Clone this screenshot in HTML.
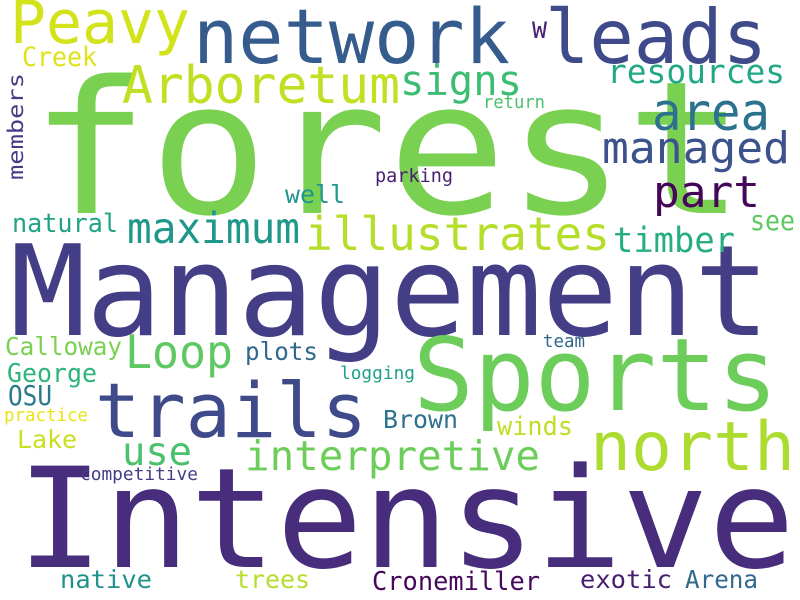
<!DOCTYPE html>
<html><head><meta charset="utf-8"><style>
html,body{margin:0;padding:0;background:#fff;}
svg{display:block;}
text{font-family:"DejaVu Sans Mono","Liberation Mono",monospace;}
</style></head><body>
<svg width="800" height="600" viewBox="0 0 800 600">
<rect width="800" height="600" fill="#fff"/>
<text x="30" y="213" font-size="185" fill="#7ad151" textLength="715" lengthAdjust="spacingAndGlyphs">forest</text>
<text x="10" y="335" font-size="126" fill="#433e85" textLength="760" lengthAdjust="spacingAndGlyphs">Management</text>
<text x="17" y="567" font-size="139" fill="#472d7b" textLength="778" lengthAdjust="spacingAndGlyphs">Intensive</text>
<text x="413" y="410" font-size="101" fill="#6ccd5a" textLength="365" lengthAdjust="spacingAndGlyphs">Sports</text>
<text x="95" y="437" font-size="76" fill="#3e4a89" textLength="272" lengthAdjust="spacingAndGlyphs">trails</text>
<text x="590" y="470" font-size="68" fill="#addc30" textLength="205" lengthAdjust="spacingAndGlyphs">north</text>
<text x="193" y="63" font-size="76" fill="#365c8d" textLength="317" lengthAdjust="spacingAndGlyphs">network</text>
<text x="545" y="63" font-size="75" fill="#3e4a89" textLength="222" lengthAdjust="spacingAndGlyphs">leads</text>
<text x="10" y="43" font-size="60" fill="#d2e21b" textLength="180" lengthAdjust="spacingAndGlyphs">Peavy</text>
<text x="22" y="66" font-size="27" fill="#dde318" textLength="75" lengthAdjust="spacingAndGlyphs">Creek</text>
<text x="122" y="103" font-size="52" fill="#c2df23" textLength="278" lengthAdjust="spacingAndGlyphs">Arboretum</text>
<text transform="translate(23,180) rotate(-90)" x="0" y="0" font-size="21" fill="#433e85" textLength="107" lengthAdjust="spacingAndGlyphs">members</text>
<text x="400" y="95" font-size="42" fill="#3dbc74" textLength="122" lengthAdjust="spacingAndGlyphs">signs</text>
<text x="532" y="38" font-size="22" fill="#482173" textLength="15" lengthAdjust="spacingAndGlyphs">W</text>
<text x="607" y="83" font-size="33" fill="#22a884" textLength="178" lengthAdjust="spacingAndGlyphs">resources</text>
<text x="483" y="108" font-size="18" fill="#4ac16d" textLength="62" lengthAdjust="spacingAndGlyphs">return</text>
<text x="652" y="130" font-size="52" fill="#2c728e" textLength="118" lengthAdjust="spacingAndGlyphs">area</text>
<text x="602" y="163" font-size="44" fill="#3b528b" textLength="188" lengthAdjust="spacingAndGlyphs">managed</text>
<text x="653" y="207" font-size="44" fill="#450559" textLength="107" lengthAdjust="spacingAndGlyphs">part</text>
<text x="750" y="230" font-size="28" fill="#5ec962" textLength="45" lengthAdjust="spacingAndGlyphs">see</text>
<text x="375" y="182" font-size="19" fill="#481f70" textLength="78" lengthAdjust="spacingAndGlyphs">parking</text>
<text x="285" y="203" font-size="25" fill="#1f968b" textLength="60" lengthAdjust="spacingAndGlyphs">well</text>
<text x="12" y="232" font-size="26" fill="#20a386" textLength="106" lengthAdjust="spacingAndGlyphs">natural</text>
<text x="127" y="243" font-size="43" fill="#1f988b" textLength="173" lengthAdjust="spacingAndGlyphs">maximum</text>
<text x="305" y="250" font-size="46" fill="#b5de2b" textLength="305" lengthAdjust="spacingAndGlyphs">illustrates</text>
<text x="613" y="252" font-size="35" fill="#26ad81" textLength="122" lengthAdjust="spacingAndGlyphs">timber</text>
<text x="5" y="355" font-size="25" fill="#7ad151" textLength="117" lengthAdjust="spacingAndGlyphs">Calloway</text>
<text x="125" y="368" font-size="46" fill="#5ec962" textLength="108" lengthAdjust="spacingAndGlyphs">Loop</text>
<text x="245" y="360" font-size="25" fill="#31688e" textLength="73" lengthAdjust="spacingAndGlyphs">plots</text>
<text x="543" y="347" font-size="18" fill="#31688e" textLength="42" lengthAdjust="spacingAndGlyphs">team</text>
<text x="340" y="379" font-size="18" fill="#1fa088" textLength="75" lengthAdjust="spacingAndGlyphs">logging</text>
<text x="7" y="382" font-size="26" fill="#2fb47c" textLength="90" lengthAdjust="spacingAndGlyphs">George</text>
<text x="8" y="405" font-size="28" fill="#2a788e" textLength="44" lengthAdjust="spacingAndGlyphs">OSU</text>
<text x="4" y="421" font-size="18" fill="#e8e419" textLength="84" lengthAdjust="spacingAndGlyphs">practice</text>
<text x="383" y="428" font-size="25" fill="#2c728e" textLength="75" lengthAdjust="spacingAndGlyphs">Brown</text>
<text x="497" y="435" font-size="26" fill="#bddf26" textLength="76" lengthAdjust="spacingAndGlyphs">winds</text>
<text x="17" y="448" font-size="25" fill="#c8e020" textLength="60" lengthAdjust="spacingAndGlyphs">Lake</text>
<text x="122" y="465" font-size="39" fill="#4ac16d" textLength="70" lengthAdjust="spacingAndGlyphs">use</text>
<text x="245" y="470" font-size="41" fill="#6ccd5a" textLength="295" lengthAdjust="spacingAndGlyphs">interpretive</text>
<text x="80" y="480" font-size="18" fill="#433e85" textLength="118" lengthAdjust="spacingAndGlyphs">competitive</text>
<text x="60" y="588" font-size="25" fill="#21918c" textLength="92" lengthAdjust="spacingAndGlyphs">native</text>
<text x="235" y="588" font-size="25" fill="#b5de2b" textLength="75" lengthAdjust="spacingAndGlyphs">trees</text>
<text x="372" y="590" font-size="26" fill="#46085c" textLength="168" lengthAdjust="spacingAndGlyphs">Cronemiller</text>
<text x="580" y="588" font-size="25" fill="#481f70" textLength="92" lengthAdjust="spacingAndGlyphs">exotic</text>
<text x="685" y="588" font-size="25" fill="#31688e" textLength="73" lengthAdjust="spacingAndGlyphs">Arena</text>
</svg>
</body></html>
